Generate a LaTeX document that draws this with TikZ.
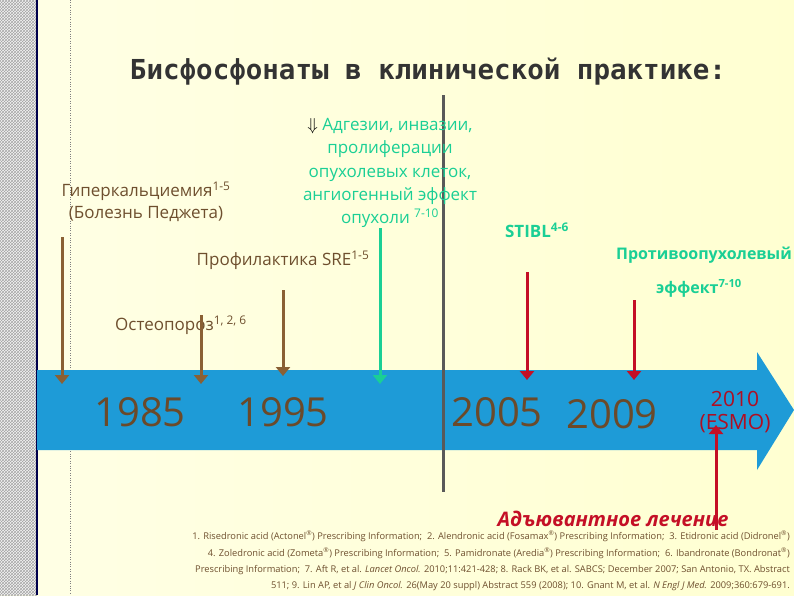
\documentclass[tikz,border=0pt]{standalone}
\usepackage{fontspec}
\setmainfont{Open Sans}
\newfontfamily\titlefont{DejaVu Sans Mono}
\usetikzlibrary{patterns,arrows.meta}
\definecolor{brn}{HTML}{8A6034}
\definecolor{txtbrn}{HTML}{6E4F2E}
\definecolor{grn}{HTML}{1ACF95}
\definecolor{rd}{HTML}{C40F26}
\definecolor{band}{HTML}{1E9BD7}
\definecolor{yr}{HTML}{6B4A2A}
\tikzset{
  dn/.style={line width=3pt,-{Triangle[length=9pt,width=14pt]}},
  lbl/.style={inner sep=0pt,font=\fontsize{17}{22}\selectfont},
  year/.style={inner sep=0pt,font=\fontsize{40}{42}\selectfont,text=yr},
}
\begin{document}
\begin{tikzpicture}[x=1pt,y=-1pt]
\useasboundingbox (0,0) rectangle (794,595);
\shade[left color=white!90!yellow, right color=yellow!18!white] (0,0) rectangle (794,595);
\fill[white!92!gray] (0,0) rectangle (37,595);
\fill[pattern=crosshatch,pattern color=gray!70] (0,0) rectangle (37,595);
\draw[line width=1.2pt,blue!30!black] (37,0) -- (37,595);
\draw[dotted,gray] (70,0) -- (70,595);
% title
\node[inner sep=0pt,font=\titlefont\bfseries\fontsize{27.5}{30}\selectfont,text=black!80] (title) at (428,72) {Бисфосфонаты в клинической практике:};
% band
\fill[band] (37,370) -- (757,370) -- (757,352) -- (794,410) -- (757,470) -- (757,450) -- (37,450) -- cycle;
% gray line
\coordinate (g1) at (443,95); \coordinate (g2) at (443,492);
\draw[line width=3pt,black!65] (g1) -- (g2);
% years
\node[year] (y1) at (140,412) {1985};
\node[year] (y2) at (283,412) {1995};
\node[year] (y3) at (497,412) {2005};
\node[year] (y4) at (612,414) {2009};
\node[inner sep=0pt,align=center,text=rd!90!black,font=\fontsize{21}{23}\selectfont] (y5) at (735,412) {2010\\(ESMO)};
% labels
\node[lbl,text=txtbrn,align=center] (hyp) at (146,202) {Гиперкальциемия\textsuperscript{1-5}\\(Болезнь Педжета)};
\node[lbl,text=grn,align=center,font=\fontsize{17}{23.3}\selectfont] (grnt) at (390,173) {\textcolor{black}{$\Downarrow$} Адгезии, инвазии,\\пролиферации\\опухолевых клеток,\\ангиогенный эффект\\опухоли \textsuperscript{7-10}};
\node[lbl,text=txtbrn] (sre) at (283,260) {Профилактика SRE\textsuperscript{1-5}};
\node[lbl,text=txtbrn] (ost) at (181,325) {Остеопороз\textsuperscript{1, 2, 6}};
\node[lbl,text=grn,font=\bfseries\fontsize{17}{20}\selectfont] (stibl) at (537,230) {STIBL\textsuperscript{4-6}};
\node[lbl,text=grn,font=\bfseries\fontsize{16}{34}\selectfont,align=right,anchor=east] (anti) at (792,272) {Противоопухолевый\\эффект\textsuperscript{7-10}\hspace*{50pt}};
\node[inner sep=0pt,text=rd,font=\bfseries\itshape\fontsize{20}{22}\selectfont] (adj) at (613,519) {Адъювантное лечение};
% arrows
\coordinate (a1s) at (62,237); \coordinate (a1e) at (62,384);
\coordinate (a2s) at (201,315); \coordinate (a2e) at (201,384);
\coordinate (a3s) at (283,290); \coordinate (a3e) at (283,376);
\coordinate (a4s) at (380,228); \coordinate (a4e) at (380,384);
\coordinate (a5s) at (527,272); \coordinate (a5e) at (527,380);
\coordinate (a6s) at (634,300); \coordinate (a6e) at (634,380);
\coordinate (a7s) at (716,530); \coordinate (a7e) at (716,425);
\draw[dn,brn] (a1s) -- (a1e);
\draw[dn,brn] (a2s) -- (a2e);
\draw[dn,brn] (a3s) -- (a3e);
\draw[dn,grn] (a4s) -- (a4e);
\draw[dn,rd] (a5s) -- (a5e);
\draw[dn,rd] (a6s) -- (a6e);
\draw[dn,rd] (a7s) -- (a7e);
% refs
\node[inner sep=0pt,anchor=north east,align=right,text=txtbrn,font=\fontsize{9.3}{16.3}\selectfont] (refs) at (790,531) {1. Risedronic acid (Actonel\textsuperscript{®}) Prescribing Information;\ \ 2. Alendronic acid (Fosamax\textsuperscript{®}) Prescribing Information;\ \ 3. Etidronic acid (Didronel\textsuperscript{®})\\4. Zoledronic acid (Zometa\textsuperscript{®}) Prescribing Information;\ \ 5. Pamidronate (Aredia\textsuperscript{®}) Prescribing Information;\ \ 6. Ibandronate (Bondronat\textsuperscript{®})\\Prescribing Information;\ \ 7. Aft R, et al. \textit{Lancet Oncol.} 2010;11:421-428; 8. Rack BK, et al. SABCS; December 2007; San Antonio, TX. Abstract\\511; 9. Lin AP, et al \textit{J Clin Oncol.} 26(May 20 suppl) Abstract 559 (2008); 10. Gnant M, et al. \textit{N Engl J Med.} 2009;360:679-691.};
\end{tikzpicture}
\end{document}
